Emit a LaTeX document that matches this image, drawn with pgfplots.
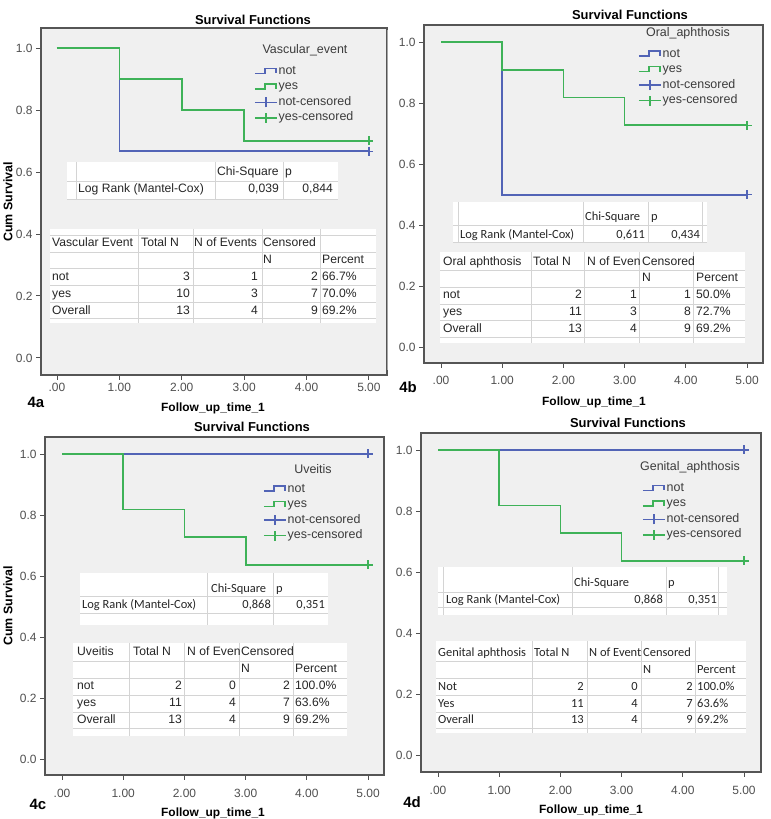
\documentclass[border=0pt]{standalone}
\usepackage{fontspec}
\setmainfont{Liberation Sans}
\newfontfamily\calibri{Carlito}
\usepackage{pgfplots}
\pgfplotsset{compat=1.18}
\definecolor{kmblue}{RGB}{82,100,182}
\definecolor{kmgreen}{RGB}{62,178,88}
\definecolor{plotbg}{RGB}{240,240,240}
\definecolor{framec}{RGB}{85,85,85}
\definecolor{tgc}{RGB}{212,212,212}
\definecolor{tickc}{RGB}{80,80,80}
\definecolor{legc}{RGB}{60,60,60}
\pgfplotsset{
 stepimg/.style={legend image code/.code={\draw[##1] (0bp,-2bp) -- (10bp,-2bp) -- (10bp,3bp) -- (21bp,3bp) -- (21bp,-2bp);}},
 censimg/.style={legend image code/.code={\draw[##1] (0bp,0bp) -- (22bp,0bp) (11bp,-5bp) -- (11bp,5bp);}},
 km/.style={
  scale only axis, anchor=north west,
  axis background/.style={fill=plotbg},
  axis line style={draw=framec, line width=1.4bp},
  tick align=outside, xtick pos=left, ytick pos=left,
  major tick length=5bp,
  tick style={draw=tickc, line width=0.9bp},
  xtick={0,1,2,3,4,5}, xticklabels={.00,1.00,2.00,3.00,4.00,5.00},
  ytick={0,0.2,0.4,0.6,0.8,1}, yticklabels={0.0,0.2,0.4,0.6,0.8,1.0},
  tick label style={font=\fontsize{12}{14}\selectfont, text=tickc},
  legend style={anchor=north west, draw=none, fill=none, inner sep=0pt,
    font=\fontsize{12.5}{14}\selectfont, text=legc, row sep=1.5bp,
    nodes={inner sep=1bp, text height=9bp, text depth=3bp}},
  legend cell align=left,
 },
 kmline/.style={line width=1.7bp, const plot, forget plot},
 kmcens/.style={only marks, mark=+, mark size=4.5bp, mark options={line width=1.4bp}, forget plot},
}
\tikzset{
 tg/.style={draw=tgc, line width=0.9bp},
 tl/.style={anchor=west, inner sep=0pt, text height=8.8bp, text depth=2.4bp, text=black!85},
 tr/.style={anchor=east, inner sep=0pt, text height=8.8bp, text depth=2.4bp, text=black!85},
}
\newcommand{\TL}[3]{\node[tl] at (#1,#2) {#3};}
\newcommand{\TR}[3]{\node[tr] at (#1,#2) {#3};}
\newcommand{\legendset}{%
 \addlegendimage{kmblue, line width=1.5bp, stepimg}\addlegendentry{not}
 \addlegendimage{kmgreen, line width=1.5bp, stepimg}\addlegendentry{yes}
 \addlegendimage{kmblue, line width=1.5bp, censimg}\addlegendentry{not-censored}
 \addlegendimage{kmgreen, line width=1.5bp, censimg}\addlegendentry{yes-censored}
}
\begin{document}
\begin{tikzpicture}[x=1bp,y=1bp]
\fill[white] (0,0) rectangle (771,819);
\path[use as bounding box] (0,0) rectangle (771,819);

% ---------------- 4a ----------------
\begin{axis}[km, at={(41bp,791bp)}, width=346bp, height=347bp,
  xmin=-0.256, xmax=5.29, ymin=-0.055, ymax=1.0645,
  legend style={at={(axis cs:3.157,0.948)}}]
\legendset
\addplot[kmblue, kmline] coordinates {(0,1) (1,0.6667) (5,0.6667)};
\addplot[kmgreen, kmline] coordinates {(0,1) (1,0.9) (2,0.8) (3,0.7) (5,0.7)};
\addplot[kmblue, kmcens] coordinates {(5,0.6667)};
\addplot[kmgreen, kmcens] coordinates {(5,0.7)};
\end{axis}

% ---------------- 4b ----------------
\begin{axis}[km, at={(424bp,794bp)}, width=339bp, height=338bp,
  xmin=-0.278, xmax=5.261, ymin=-0.0507, ymax=1.0556,
  xticklabel style={yshift=-5bp},
  legend style={at={(axis cs:3.219,0.9836)}}]
\legendset
\addplot[kmblue, kmline] coordinates {(0,1) (1,0.5) (5,0.5)};
\addplot[kmgreen, kmline] coordinates {(0,1) (1,0.9091) (2,0.8182) (3,0.7273) (5,0.7273)};
\addplot[kmblue, kmcens] coordinates {(5,0.5)};
\addplot[kmgreen, kmcens] coordinates {(5,0.7273)};
\end{axis}

% ---------------- 4c ----------------
\begin{axis}[km, at={(45bp,382bp)}, width=339bp, height=338bp,
  xmin=-0.278, xmax=5.26, ymin=-0.0525, ymax=1.0557,
  xticklabel style={yshift=-6bp},
  legend style={at={(axis cs:3.284,0.908)}}]
\legendset
\addplot[kmblue, kmline] coordinates {(0,1) (5,1)};
\addplot[kmgreen, kmline] coordinates {(0,1) (1,0.8182) (2,0.7273) (3,0.6364) (5,0.6364)};
\addplot[kmblue, kmcens] coordinates {(5,1)};
\addplot[kmgreen, kmcens] coordinates {(5,0.6364)};
\end{axis}

% ---------------- 4d ----------------
\begin{axis}[km, at={(421bp,386bp)}, width=340bp, height=339bp,
  xmin=-0.278, xmax=5.278, ymin=-0.0557, ymax=1.0557,
  xticklabel style={yshift=-6bp},
  legend style={at={(axis cs:3.333,0.898)}}]
\legendset
\addplot[kmblue, kmline] coordinates {(0,1) (5,1)};
\addplot[kmgreen, kmline] coordinates {(0,1) (1,0.8182) (2,0.7273) (3,0.6364) (5,0.6364)};
\addplot[kmblue, kmcens] coordinates {(5,1)};
\addplot[kmgreen, kmcens] coordinates {(5,0.6364)};
\end{axis}

\begin{scope}[y=-1bp, yshift=819bp]
\draw[gray!70, line width=1bp] (387,30) -- (387,370);
% 4a texts and tables
\node[font=\bfseries\fontsize{13}{15}\selectfont] at (253,20) {Survival Functions};
\node[font=\fontsize{12.5}{14}\selectfont, text=legc] at (305,50) {Vascular\_event};
\node[rotate=90, font=\bfseries\fontsize{12.5}{14}\selectfont] at (8,202) {Cum Survival};
\node[font=\bfseries\fontsize{12}{14}\selectfont] at (213,408) {Follow\_up\_time\_1};
\node[font=\bfseries\fontsize{15}{17}\selectfont] at (36,402) {4a};
\begin{scope}[font=\fontsize{12.2}{14}\selectfont]
\fill[white] (67,162) rectangle (338,200);
\draw[tg] (67,181) -- (338,181) (67,199) -- (338,199);
\draw[tg] (76,162) -- (76,200) (215,162) -- (215,200) (283,162) -- (283,200);
\TL{217}{172}{Chi-Square}\TL{285}{172}{p}
\TL{78}{189}{Log Rank (Mantel-Cox)}\TR{279}{189}{0,039}\TR{333}{189}{0,844}
\fill[white] (50,229) rectangle (376,323);
\foreach \yy in {235,252,268,285,302,318} {\draw[tg] (50,\yy) -- (376,\yy);}
\foreach \xx in {138,193,262,320} {\draw[tg] (\xx,229) -- (\xx,323);}
\TL{52}{243}{Vascular Event}\TL{141}{243}{Total N}\TL{194}{243}{N of Events}\TL{263}{243}{Censored}
\TL{263}{260}{N}\TL{322}{260}{Percent}
\TL{52}{277}{not}\TR{190}{277}{3}\TR{258}{277}{1}\TR{318}{277}{2}\TL{322}{277}{66.7\%}
\TL{52}{294}{yes}\TR{190}{294}{10}\TR{258}{294}{3}\TR{318}{294}{7}\TL{322}{294}{70.0\%}
\TL{52}{311}{Overall}\TR{190}{311}{13}\TR{258}{311}{4}\TR{318}{311}{9}\TL{322}{311}{69.2\%}
\end{scope}

% 4b texts and tables
\node[font=\bfseries\fontsize{13}{15}\selectfont] at (630,15) {Survival Functions};
\node[font=\fontsize{12.5}{14}\selectfont, text=legc] at (688,33) {Oral\_aphthosis};
\node[font=\bfseries\fontsize{12}{14}\selectfont] at (594,402) {Follow\_up\_time\_1};
\node[font=\bfseries\fontsize{15}{17}\selectfont] at (408,387) {4b};
\begin{scope}[font=\calibri\fontsize{12.5}{14}\selectfont]
\fill[white] (453,202) rectangle (707,242);
\draw[tg] (453,225) -- (707,225) (453,242) -- (707,242);
\draw[tg] (458,202) -- (458,242) (583,202) -- (583,242) (648,202) -- (648,242) (702,202) -- (702,242);
\TL{585}{217}{Chi-Square}\TL{651}{217}{p}
\TL{460}{235}{Log Rank (Mantel-Cox)}\TR{645}{235}{0,611}\TR{700}{235}{0,434}
\end{scope}
\begin{scope}[font=\fontsize{12.2}{14}\selectfont]
\fill[white] (440,252) rectangle (745,343);
\foreach \yy in {270,287,304,320,337} {\draw[tg] (440,\yy) -- (745,\yy);}
\foreach \xx in {531,584,639,693} {\draw[tg] (\xx,252) -- (\xx,343);}
\TL{443}{262}{Oral aphthosis}\TL{533}{262}{Total N}
\begin{scope}\clip (586,252) rectangle (639,270); \TL{587}{262}{N of Events}\end{scope}
\TL{642}{262}{Censored}
\TL{642}{278}{N}\TL{696}{278}{Percent}
\TL{443}{295}{not}\TR{582}{295}{2}\TR{637}{295}{1}\TR{691}{295}{1}\TL{696}{295}{50.0\%}
\TL{443}{312}{yes}\TR{582}{312}{11}\TR{637}{312}{3}\TR{691}{312}{8}\TL{696}{312}{72.7\%}
\TL{443}{329}{Overall}\TR{582}{329}{13}\TR{637}{329}{4}\TR{691}{329}{9}\TL{696}{329}{69.2\%}
\end{scope}

% 4c texts and tables
\node[font=\bfseries\fontsize{13}{15}\selectfont] at (252,427) {Survival Functions};
\node[font=\fontsize{12.5}{14}\selectfont, text=legc] at (313,469) {Uveitis};
\node[rotate=90, font=\bfseries\fontsize{12.5}{14}\selectfont] at (8,606) {Cum Survival};
\node[font=\bfseries\fontsize{12}{14}\selectfont] at (213,813) {Follow\_up\_time\_1};
\node[font=\bfseries\fontsize{15}{17}\selectfont] at (38,804) {4c};
\begin{scope}[font=\calibri\fontsize{12.5}{14}\selectfont]
\fill[white] (80,573) rectangle (328,625);
\draw[tg] (80,596) -- (328,596) (80,613) -- (328,613);
\draw[tg] (207,573) -- (207,625) (273,573) -- (273,625);
\TL{211}{589}{Chi-Square}\TL{276}{589}{p}
\TL{82}{605}{Log Rank (Mantel-Cox)}\TR{271}{605}{0,868}\TR{325}{605}{0,351}
\end{scope}
\begin{scope}[font=\fontsize{12.2}{14}\selectfont]
\fill[white] (73,643) rectangle (347,736);
\foreach \yy in {661,678,695,712,728} {\draw[tg] (73,\yy) -- (347,\yy);}
\foreach \xx in {129,184,239,293} {\draw[tg] (\xx,643) -- (\xx,736);}
\TL{77}{652}{Uveitis}\TL{133}{652}{Total N}
\begin{scope}\clip (185,643) rectangle (239,661); \TL{187}{652}{N of Events}\end{scope}
\TL{241}{652}{Censored}
\TL{241}{669}{N}\TL{295}{669}{Percent}
\TL{77}{686}{not}\TR{182}{686}{2}\TR{236}{686}{0}\TR{290}{686}{2}\TL{295}{686}{100.0\%}
\TL{77}{703}{yes}\TR{182}{703}{11}\TR{236}{703}{4}\TR{290}{703}{7}\TL{295}{703}{63.6\%}
\TL{77}{720}{Overall}\TR{182}{720}{13}\TR{236}{720}{4}\TR{290}{720}{9}\TL{295}{720}{69.2\%}
\end{scope}

% 4d texts and tables
\node[font=\bfseries\fontsize{13}{15}\selectfont] at (628,423) {Survival Functions};
\node[font=\fontsize{12.5}{14}\selectfont, text=legc] at (690,467) {Genital\_aphthosis};
\node[font=\bfseries\fontsize{12}{14}\selectfont] at (591,810) {Follow\_up\_time\_1};
\node[font=\bfseries\fontsize{15}{17}\selectfont] at (412,802) {4d};
\begin{scope}[font=\calibri\fontsize{12.5}{14}\selectfont]
\fill[white] (438,567) rectangle (727,615);
\draw[tg] (438,592) -- (727,592) (438,607) -- (727,607);
\draw[tg] (443,567) -- (443,615) (572,567) -- (572,615) (666,567) -- (666,615) (718,567) -- (718,615);
\TL{574}{583}{Chi-Square}\TL{668}{583}{p}
\TL{446}{600}{Log Rank (Mantel-Cox)}\TR{663}{600}{0,868}\TR{717}{600}{0,351}
\fill[white] (436,641) rectangle (746,733);
\foreach \yy in {661,678,695,712,728} {\draw[tg] (436,\yy) -- (746,\yy);}
\foreach \xx in {532,587,641,695} {\draw[tg] (\xx,641) -- (\xx,733);}
\TL{438}{653}{Genital aphthosis}\TL{534}{653}{Total N}
\begin{scope}\clip (588,641) rectangle (641,661); \TL{589}{653}{N of Events}\end{scope}
\TL{643}{653}{Censored}
\TL{643}{670}{N}\TL{697}{670}{Percent}
\TL{438}{687}{Not}\TR{584}{687}{2}\TR{638}{687}{0}\TR{693}{687}{2}\TL{697}{687}{100.0\%}
\TL{438}{704}{Yes}\TR{584}{704}{11}\TR{638}{704}{4}\TR{693}{704}{7}\TL{697}{704}{63.6\%}
\TL{438}{720}{Overall}\TR{584}{720}{13}\TR{638}{720}{4}\TR{693}{720}{9}\TL{697}{720}{69.2\%}
\end{scope}
\end{scope}
\end{tikzpicture}
\end{document}
